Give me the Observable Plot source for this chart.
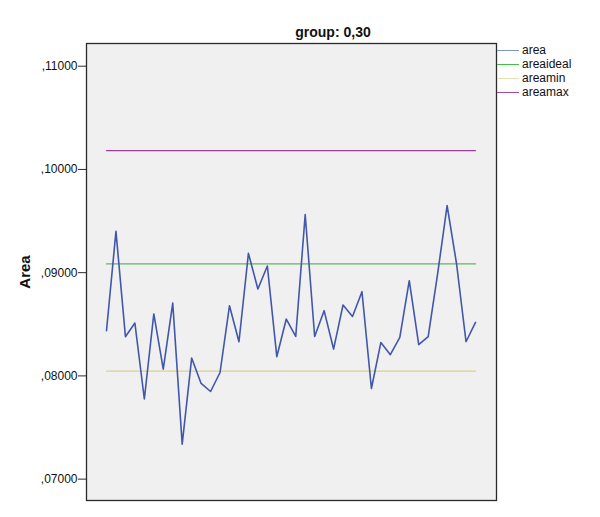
<!DOCTYPE html>
<html>
<head>
<meta charset="utf-8">
<script src="https://cdn.jsdelivr.net/npm/d3@7"></script>
<script src="https://cdn.jsdelivr.net/npm/@observablehq/plot@0.6"></script>
<style>
  body { margin: 0; background: #fff; font-family: "Liberation Sans", Arial, sans-serif; }
  #wrap { position: relative; width: 600px; height: 517px; }
  #title { position: absolute; left: 233px; width: 200px; top: 24px; text-align: center; font-weight: bold; font-size: 14px; color: #111; }
  #legend { position: absolute; left: 497px; top: 43px; font-size: 12px; color: #111; }
  .item { display: flex; align-items: center; height: 14px; }
  .sw { width: 22px; height: 0; border-top: 1.5px solid; margin-right: 3px; }
</style>
</head>
<body>
<div id="wrap">
  <div id="chart"></div>
  <div id="title">group: 0,30</div>
  <div id="legend"></div>
</div>
<script>
// ---- data ----
const obs = d3.range(1, 41);
const area = [
  0.08438, 0.09400, 0.08380, 0.08512, 0.07776, 0.08600, 0.08066, 0.08706, 0.07339, 0.08173,
  0.07927, 0.07849, 0.08033, 0.08680, 0.08331, 0.09187, 0.08842, 0.09065, 0.08186, 0.08551,
  0.08382, 0.09562, 0.08382, 0.08632, 0.08260, 0.08687, 0.08576, 0.08816, 0.07878, 0.08324,
  0.08205, 0.08373, 0.08922, 0.08302, 0.08380, 0.08990, 0.09650, 0.09084, 0.08331, 0.08518
];
const areaideal = 0.09085;
const areamin = 0.08047;
const areamax = 0.10183;
const seriesNames = ["area", "areaideal", "areamin", "areamax"];
const seriesColors = ["#4257aa", "#5cb85c", "#d9d08f", "#9b3f9e"];
const legendColors = ["#7f95cf", "#3fc03f", "#e3dfb5", "#a54aa5"];
const yTicks = [0.07, 0.08, 0.09, 0.10, 0.11];

const fmt = d => "," + d.toFixed(5).slice(2);

const chart = Plot.plot({
  width: 600,
  height: 517,
  marginLeft: 86,
  marginRight: 104,
  marginTop: 43,
  marginBottom: 17,
  style: { fontFamily: "Liberation Sans, Arial, sans-serif", fontSize: "12px", color: "#111", background: "transparent" },
  x: { domain: [1, 40], insetLeft: 20, insetRight: 21, axis: null },
  y: { domain: [0.06793, 0.1122], ticks: yTicks },
  marks: [
    Plot.frame({ fill: "#f0f0f0", stroke: null }),
    Plot.lineY(obs, { x: d => d, y: () => areamax, stroke: seriesColors[3], strokeWidth: 1.3 }),
    Plot.lineY(obs, { x: d => d, y: () => areaideal, stroke: seriesColors[1], strokeWidth: 1.3 }),
    Plot.lineY(obs, { x: d => d, y: () => areamin, stroke: seriesColors[2], strokeWidth: 1.3 }),
    Plot.lineY(area, { x: (d, i) => obs[i], y: d => d, stroke: seriesColors[0], strokeWidth: 1.6 }),
    Plot.frame({ stroke: "#2a2a2a", strokeWidth: 1.3 }),
    Plot.axisY({ ticks: yTicks, tickFormat: fmt, tickSize: 8, tickPadding: 1, label: null, stroke: "#2a2a2a", fontSize: 12, fill: "#111" }),
    Plot.text(["Area"], { frameAnchor: "left", dx: -61, rotate: -90, textAnchor: "middle", lineAnchor: "middle", fontSize: 15, fontWeight: "bold", fill: "#111" })
  ]
});
document.getElementById("chart").appendChild(chart);

const legend = document.getElementById("legend");
seriesNames.forEach((name, i) => {
  const row = document.createElement("div");
  row.className = "item";
  const sw = document.createElement("span");
  sw.className = "sw";
  sw.style.borderTopColor = legendColors[i];
  const label = document.createElement("span");
  label.textContent = name;
  row.appendChild(sw);
  row.appendChild(label);
  legend.appendChild(row);
});
</script>
</body>
</html>
